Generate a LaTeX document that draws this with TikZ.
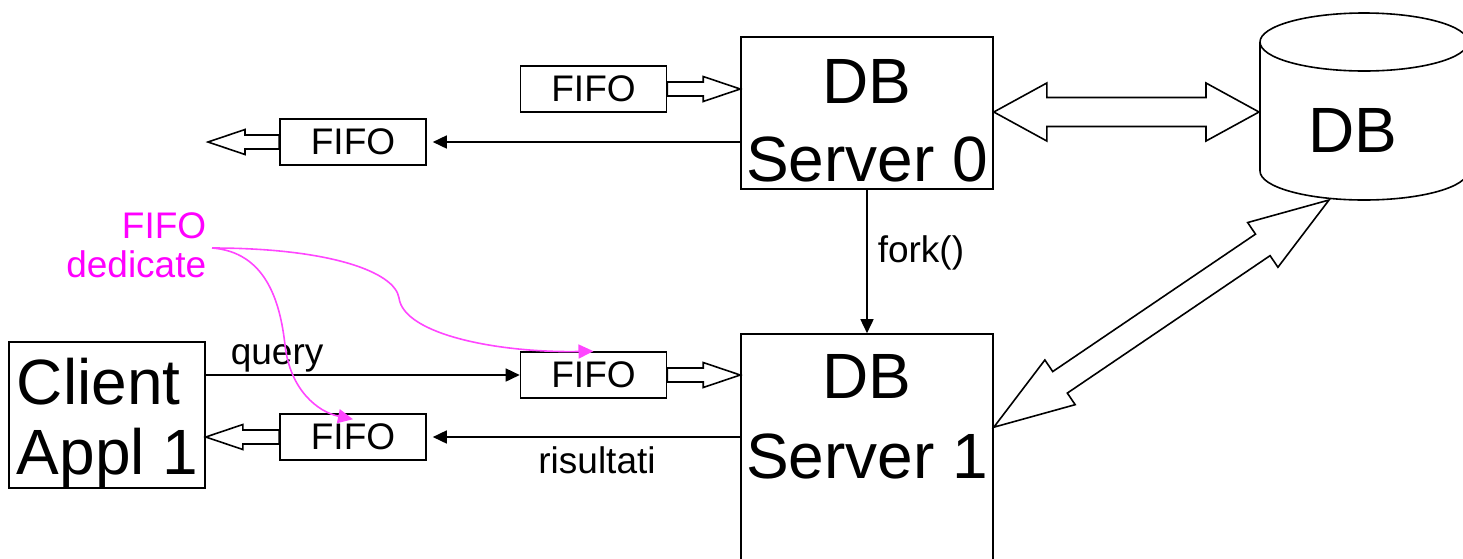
\documentclass[tikz,border=0pt]{standalone}
\usepackage{fontspec}
\setmainfont{Liberation Sans}
\usetikzlibrary{calc,arrows.meta}
\definecolor{mag}{RGB}{255,0,255}
\definecolor{magl}{RGB}{255,70,255}

\newcommand\fatone[5]{%
  \coordinate (fa-s) at (#1);
  \coordinate (fa-t) at (#2);
  \coordinate (fa-b) at ($(fa-t)!#5!(fa-s)$);
  \draw[fat] ($(fa-s)!#3!90:(fa-t)$) -- ($(fa-b)!#3!90:(fa-t)$) -- ($(fa-b)!#4!90:(fa-t)$) -- (fa-t)
    -- ($(fa-b)!#4!-90:(fa-t)$) -- ($(fa-b)!#3!-90:(fa-t)$) -- ($(fa-s)!#3!-90:(fa-t)$) -- cycle;
}
\newcommand\fattwo[5]{%
  \coordinate (fb-a) at (#1);
  \coordinate (fb-b) at (#2);
  \coordinate (fb-ba) at ($(fb-a)!#5!(fb-b)$);
  \coordinate (fb-bb) at ($(fb-b)!#5!(fb-a)$);
  \draw[fat] (fb-a) -- ($(fb-ba)!#4!90:(fb-b)$) -- ($(fb-ba)!#3!90:(fb-b)$) -- ($(fb-bb)!#3!90:(fb-b)$)
    -- ($(fb-bb)!#4!90:(fb-b)$) -- (fb-b) -- ($(fb-bb)!#4!-90:(fb-b)$) -- ($(fb-bb)!#3!-90:(fb-b)$)
    -- ($(fb-ba)!#3!-90:(fb-b)$) -- ($(fb-ba)!#4!-90:(fb-b)$) -- cycle;
}

\begin{document}
\begin{tikzpicture}[x=1pt,y=-1pt,line width=1.6pt,
  big/.style={font=\fontsize{64}{78}\selectfont, inner sep=0pt},
  small/.style={font=\fontsize{37}{39}\selectfont, inner sep=0pt},
  boxnode/.style={draw, rectangle, inner sep=0pt},
  fifo/.style={draw, rectangle, small, minimum width=146pt, minimum height=46pt},
  fat/.style={draw, fill=white, line width=1.6pt, line join=miter},
  solid arrow/.style={-{Triangle[length=14pt,width=13pt]}},
  magcurve/.style={magl, line width=1.6pt, -{Triangle[length=15pt,width=14pt]}}]
\useasboundingbox (0,0) rectangle (1463,558);
\clip (0,0) rectangle (1463,558);

% servers
\node[boxnode, minimum width=252pt, minimum height=152pt] (s0) at (867,113) {};
\node[big, anchor=base] (s0a) at (867,103) {DB};
\node[big, anchor=base] (s0b) at (867,181) {Server 0};

\node[boxnode, minimum width=252pt, minimum height=236pt] (s1) at (867,452) {};
\node[big, anchor=base] (s1a) at (867,398) {DB};
\node[big, anchor=base] (s1b) at (867,478) {Server 1};

% client
\node[boxnode, minimum width=196pt, minimum height=146pt] (cl) at (107,415) {};
\node[big, anchor=base west] (cla) at (16,404) {Client};
\node[big, anchor=base west] (clb) at (16,474) {Appl 1};

% database cylinder
\draw (1260,42) -- (1260,171) arc[start angle=180, end angle=0, x radius=104, y radius=29] -- (1468,42);
\draw (1364,42) ellipse [x radius=104, y radius=29];
\node[big, anchor=base] (dbt) at (1353,152) {DB};
\coordinate (cylL) at (1259,112);
\coordinate (cylB) at (1329,200);

% FIFOs
\node[fifo] (f0) at (593.5,89) {FIFO};
\node[fifo] (f0b) at (353,142) {FIFO};
\node[fifo] (fq) at (593.5,375) {FIFO};
\node[fifo] (fr) at (353,437) {FIFO};
\coordinate (out0) at (208,142);

% hollow arrows
\fatone{f0.east}{s0.west|-f0.east}{7pt}{12.5pt}{37pt}
\fatone{f0b.west}{out0}{7pt}{12.5pt}{37pt}
\fatone{fq.east}{s1.west|-fq.east}{7pt}{12.5pt}{37pt}
\fatone{fr.west}{cl.east|-fr.west}{7pt}{12.5pt}{37pt}
\fattwo{s0.east|-cylL}{cylL}{14.5pt}{29pt}{53pt}
\fattwo{$(s1.north east)+(0,94)$}{cylB}{13pt}{27pt}{80pt}

% solid arrows
\draw[solid arrow, shorten >=6pt] (s0.west|-f0b.east) -- (f0b.east);
\draw[solid arrow, shorten >=6pt] (s1.west|-fr.east) -- (fr.east);
\draw[solid arrow] (cl.east|-fq.west) -- (fq.west);
\draw[solid arrow] (s0.south) -- (s1.north);

% labels
\node[small, anchor=base west] (fork) at (877,262) {fork()};
\node[small, anchor=base west] (qlab) at (230,364) {query};
\node[small, anchor=base] (rlab) at (597,473) {risultati};

% FIFO dedicate
\node[small, text=mag, anchor=base east] (fd1) at (207,238) {FIFO};
\node[small, text=mag, anchor=base east] (fd2) at (207,277) {dedicate};
\coordinate (fdS) at (212,248);
\draw[magcurve] (fdS) .. controls (330,248) and (395,272) .. (399,298)
  .. controls (404,335) and (500,353) .. (fq.north);
\draw[magcurve] (fdS) .. controls (265,252) and (280,300) .. (285,345)
  .. controls (290,390) and (318,412) .. ($(fr.north)+(0,6)$);
\end{tikzpicture}
\end{document}
